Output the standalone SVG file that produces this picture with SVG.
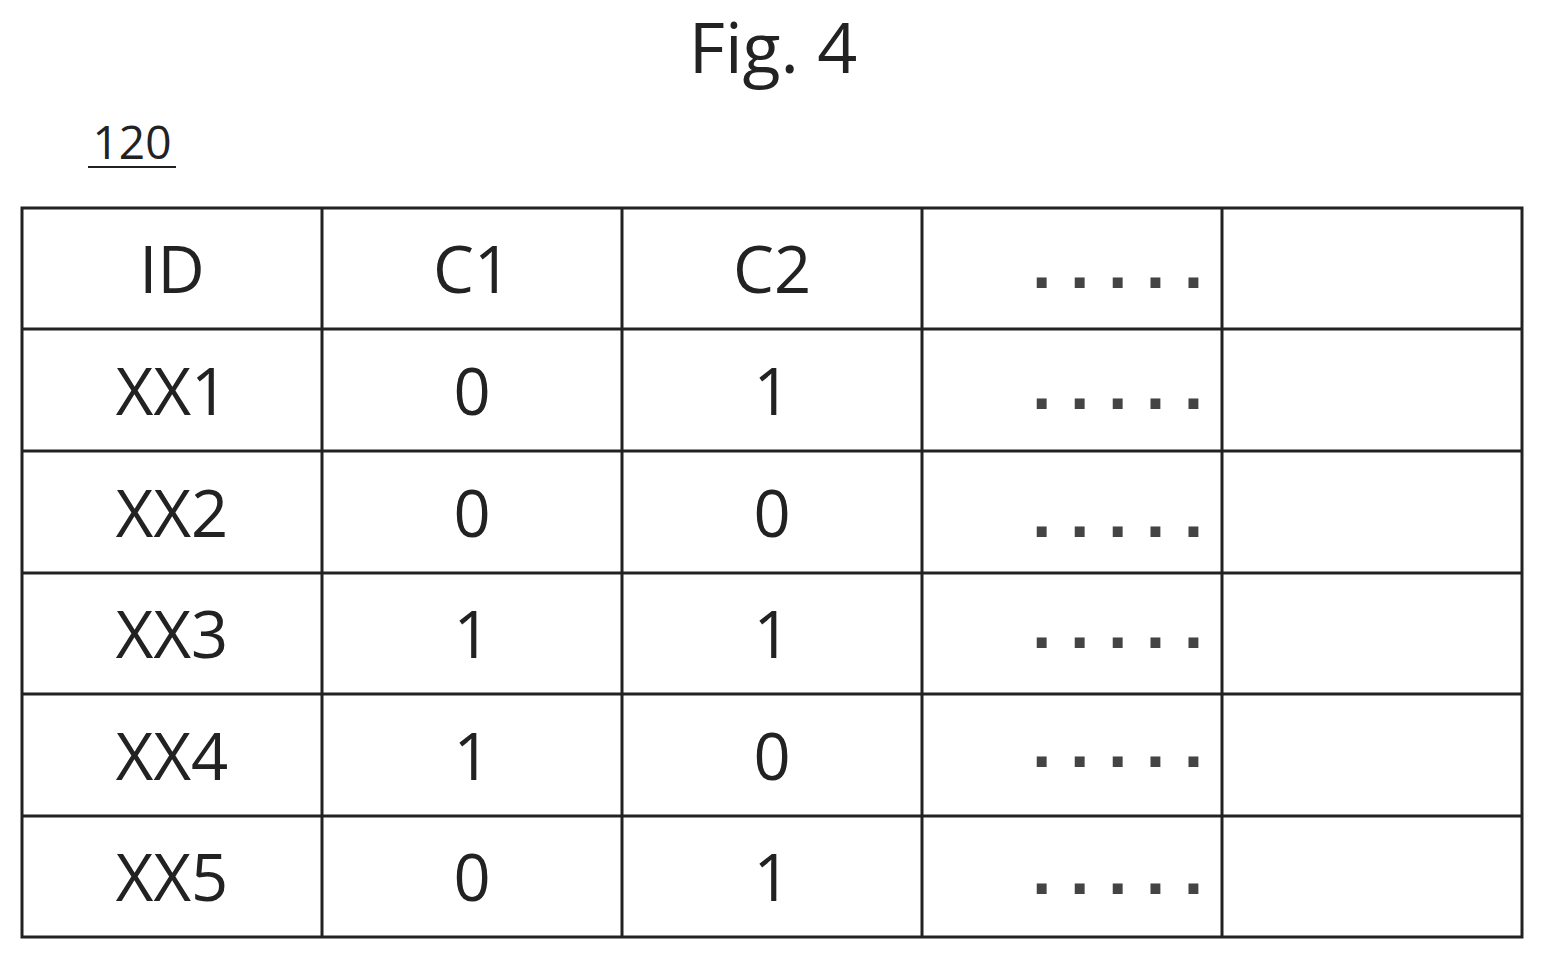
<svg xmlns="http://www.w3.org/2000/svg" width="1545" height="961" viewBox="0 0 1545 961">
<style>
.t{font-family:"Open Sans","Liberation Sans",sans-serif;font-size:65px;fill:#222;text-anchor:middle;dominant-baseline:central}
.d{font-family:"Liberation Sans",sans-serif;font-size:70px;font-weight:bold;fill:#444;letter-spacing:18.5px}
.g{fill:none;stroke:#222;stroke-width:3}
</style>
<rect width="1545" height="961" fill="#fff"/>
<text x="773" y="46" class="t" style="font-size:70px">Fig. 4</text>
<g id="label120"><text x="132" y="141" class="t" style="font-size:46px">120</text><line x1="88" y1="167" x2="176" y2="167" stroke="#222" stroke-width="2"/></g>
<g id="grid" class="g">
<rect x="22" y="208" width="1500" height="729"/>
<path d="M322 208V937M622 208V937M922 208V937M1222 208V937M22 329H1522M22 451H1522M22 573H1522M22 694H1522M22 816H1522"/>
</g>
<g id="cells">
<text class="t" x="172" y="268">ID</text><text class="t" x="472" y="268">C1</text><text class="t" x="772" y="268">C2</text>
<text class="t" x="172" y="390">XX1</text><text class="t" x="472" y="390">0</text><text class="t" x="772" y="390">1</text>
<text class="t" x="172" y="512">XX2</text><text class="t" x="472" y="512">0</text><text class="t" x="772" y="512">0</text>
<text class="t" x="172" y="633">XX3</text><text class="t" x="472" y="633">1</text><text class="t" x="772" y="633">1</text>
<text class="t" x="172" y="755">XX4</text><text class="t" x="472" y="755">1</text><text class="t" x="772" y="755">0</text>
<text class="t" x="172" y="876">XX5</text><text class="t" x="472" y="876">0</text><text class="t" x="772" y="876">1</text>
<text class="d" x="1032" y="288">.....</text>
<text class="d" x="1032" y="409">.....</text>
<text class="d" x="1032" y="537">.....</text>
<text class="d" x="1032" y="648">.....</text>
<text class="d" x="1032" y="767">.....</text>
<text class="d" x="1032" y="894">.....</text>
</g>
</svg>
